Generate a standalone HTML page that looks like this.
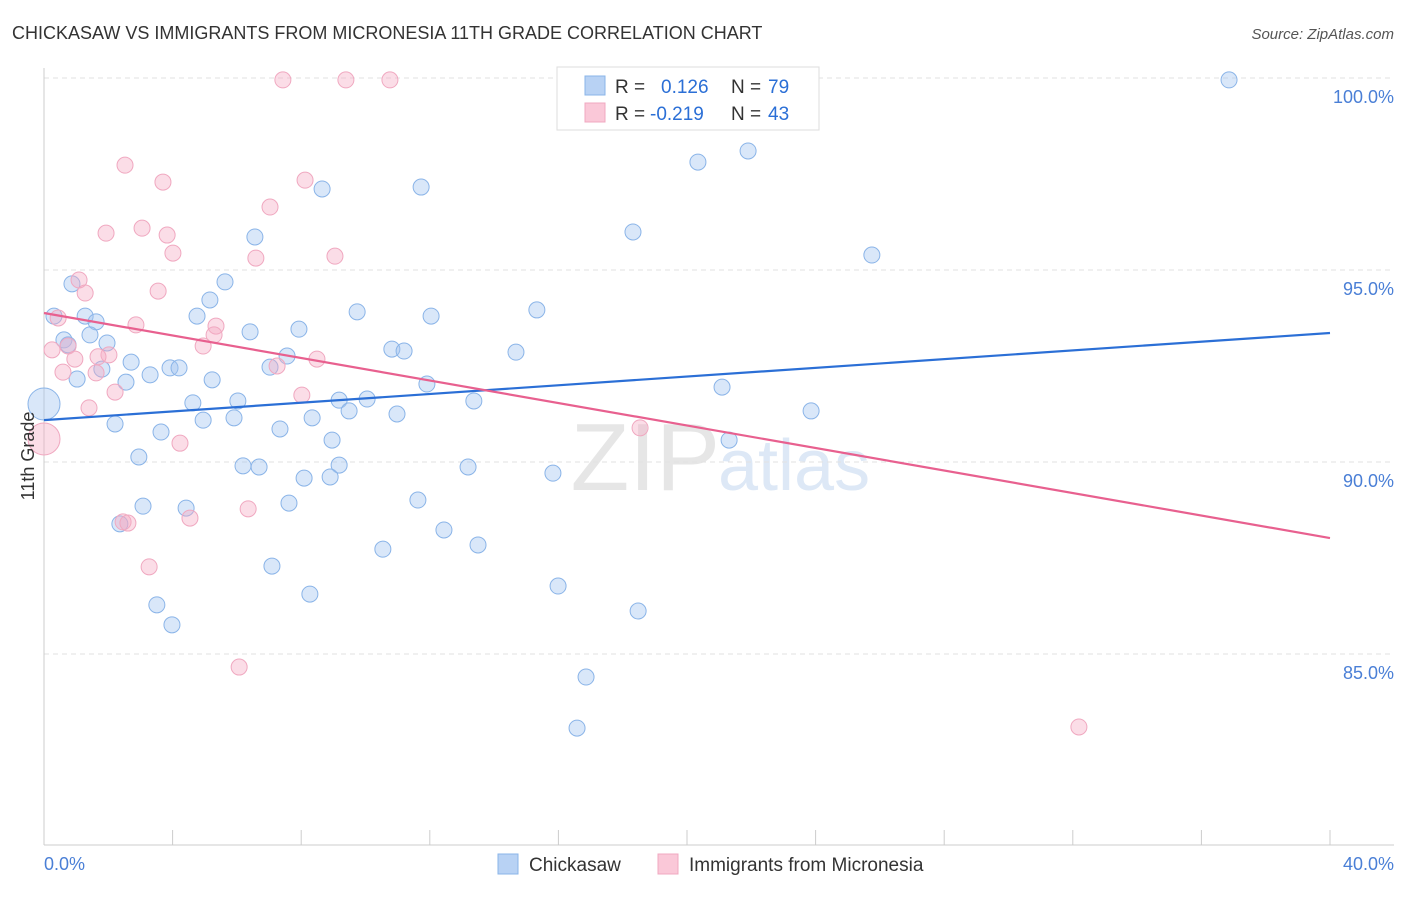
<!DOCTYPE html>
<html><head><meta charset="utf-8"><style>
body{margin:0;background:#fff;font-family:"Liberation Sans",sans-serif}
svg text{font-family:"Liberation Sans",sans-serif}
</style></head><body>
<svg id="chart" width="1406" height="892">
<text x="12" y="39" font-size="18" fill="#333">CHICKASAW VS IMMIGRANTS FROM MICRONESIA 11TH GRADE CORRELATION CHART</text>
<text x="1394" y="39" font-size="15" fill="#555" text-anchor="end" font-style="italic">Source: ZipAtlas.com</text>
<text x="720" y="490" font-size="96" fill="#e6e6e6" text-anchor="end" font-family="Liberation Serif">ZIP</text>
<text x="718" y="490" font-size="72" fill="#dde8f6">atlas</text>
<g id="grid"></g><g id="axes"></g><g id="pts"></g><g id="lines"></g>
<text x="34" y="456" font-size="18" fill="#333" text-anchor="middle" transform="rotate(-90 34 456)">11th Grade</text>
<g>
<rect x="557" y="67" width="262" height="63" fill="#fff" stroke="#ddd"/>
<rect x="585" y="76" width="20" height="19" fill="#b8d2f4" stroke="#8ab4e8"/>
<rect x="585" y="103" width="20" height="19" fill="#fac8d8" stroke="#f0a8c0"/>
<text x="615" y="93" font-size="19" fill="#333">R = </text><text x="661" y="93" font-size="19" fill="#2b6fd6">0.126</text>
<text x="731" y="93" font-size="19" fill="#333">N = </text><text x="768" y="93" font-size="19" fill="#2b6fd6">79</text>
<text x="615" y="120" font-size="19" fill="#333">R = </text><text x="650" y="120" font-size="19" fill="#2b6fd6">-0.219</text>
<text x="731" y="120" font-size="19" fill="#333">N = </text><text x="768" y="120" font-size="19" fill="#2b6fd6">43</text>
</g>
<g>
<rect x="498" y="854" width="20" height="20" fill="#b8d2f4" stroke="#8ab4e8"/>
<text x="529" y="871" font-size="19" fill="#333">Chickasaw</text>
<rect x="658" y="854" width="20" height="20" fill="#fac8d8" stroke="#f0a8c0"/>
<text x="689" y="871" font-size="19" fill="#333">Immigrants from Micronesia</text>
</g>
<text x="44" y="870" font-size="18" fill="#4a7fd6">0.0%</text>
<text x="1394" y="870" font-size="18" fill="#4a7fd6" text-anchor="end">40.0%</text>
</svg>
<script>
const yTicks=[100,95,90,85];
const yTickLabels=["100.0%","95.0%","90.0%","85.0%"];
const blueX=[36.86,20.34,21.90,8.65,11.73,18.32,6.56,25.75,0.87,5.63,5.16,15.33,9.74,12.04,4.76,0.31,1.28,1.62,1.43,6.41,7.93,0.62,1.96,0.75,10.82,11.20,14.68,7.56,2.71,3.92,4.20,1.80,7.03,3.30,1.03,2.55,5.23,11.91,21.09,10.05,9.18,13.37,4.63,6.03,0,23.86,9.49,10.98,8.34,5.91,4.95,2.21,7.34,3.64,8.96,21.31,2.95,6.19,6.69,9.18,13.19,15.83,8.09,8.90,11.63,7.62,3.08,4.42,2.36,12.44,13.50,10.54,7.09,15.99,8.27,18.48,3.51,3.98,16.86,16.58];
const blueY=[99.95,97.81,98.10,97.11,97.16,95.99,95.86,95.39,94.64,94.69,94.22,93.96,93.91,93.80,93.80,93.80,93.80,93.65,93.31,93.39,93.46,93.18,93.10,93.05,92.94,92.89,92.86,92.76,92.60,92.45,92.45,92.42,92.47,92.27,92.16,92.08,92.14,92.03,91.95,91.64,91.61,91.59,91.54,91.59,91.51,91.33,91.33,91.25,91.15,91.15,91.09,90.99,90.86,90.78,90.57,90.57,90.13,89.90,89.87,89.92,89.87,89.71,89.58,89.61,89.01,88.93,88.85,88.80,88.39,88.23,87.84,87.73,87.29,86.77,86.56,86.12,86.28,85.76,84.40,83.07];
const pinkX=[7.43,9.39,10.76,2.52,3.70,8.12,7.03,1.93,3.05,3.83,4.01,6.59,9.05,1.09,1.28,3.55,0.44,2.86,5.35,5.29,4.95,0.25,0.75,0.96,2.02,1.68,8.49,0.59,1.62,7.25,2.21,1.40,8.02,4.23,0,18.54,4.54,6.35,2.46,2.61,3.27,6.07,32.19];
const pinkY=[99.95,99.95,99.95,97.73,97.29,97.34,96.64,95.96,96.09,95.91,95.44,95.31,95.36,94.74,94.40,94.45,93.75,93.57,93.54,93.31,93.02,92.92,93.02,92.68,92.79,92.74,92.68,92.34,92.32,92.50,91.82,91.41,91.74,90.49,90.60,90.89,88.54,88.78,88.44,88.41,87.27,84.66,83.10];
const blueLine=[91.09,93.36];
const pinkLine=[93.88,88.02];
const NS="http://www.w3.org/2000/svg";
const X0=44,X1=1330,Y100=78,PX=38.4;
const sx=v=>X0+(v/40)*(X1-X0);
const sy=v=>Y100+(100-v)*PX;
function mk(tag,attrs,parent){const e=document.createElementNS(NS,tag);for(const k in attrs)e.setAttribute(k,attrs[k]);document.getElementById(parent).appendChild(e);return e;}
yTicks.forEach((t,i)=>{
 const l=mk('line',{x1:X0,x2:1394,y1:sy(t),y2:sy(t),stroke:'#e2e2e2','stroke-dasharray':'5,4'},'grid');
 
 
 const tx=mk('text',{x:1394,y:sy(t)+25,'font-size':18,fill:'#4a7fd6','text-anchor':'end'},'grid');
 tx.textContent=yTickLabels[i];
 
 
});
const ax=mk('line',{x1:X0,x2:1394,y1:845,y2:845,stroke:'#ccc'},'axes');


const ay=mk('line',{x1:X0,x2:X0,y1:68,y2:845,stroke:'#ccc'},'axes');


for(let i=0;i<=10;i++){
 const t=mk('line',{x1:sx(i*4),x2:sx(i*4),y1:830,y2:845,stroke:'#ccc'},'axes');
 
 
}
function pts(xs,ys,fill,stroke,name){
 xs.forEach((x,i)=>{
  const big=(x===0);
  const c=mk('circle',{cx:sx(x),cy:sy(ys[i]),r:big?16:8,fill:fill,stroke:stroke,'stroke-width':1},'pts');
  
  
 });
}
pts(blueX,blueY,'rgba(160,196,240,0.4)','#8ab4e8','chickasaw-point');
pts(pinkX,pinkY,'rgba(245,170,195,0.4)','#f0a8c0','micronesia-point');
const bl=mk('line',{x1:sx(0),y1:sy(blueLine[0]),x2:sx(40),y2:sy(blueLine[1]),stroke:'#2b6fd6','stroke-width':2.2},'lines');


const pl=mk('line',{x1:sx(0),y1:sy(pinkLine[0]),x2:sx(40),y2:sy(pinkLine[1]),stroke:'#e8608f','stroke-width':2.2},'lines');


</script>
</body></html>
